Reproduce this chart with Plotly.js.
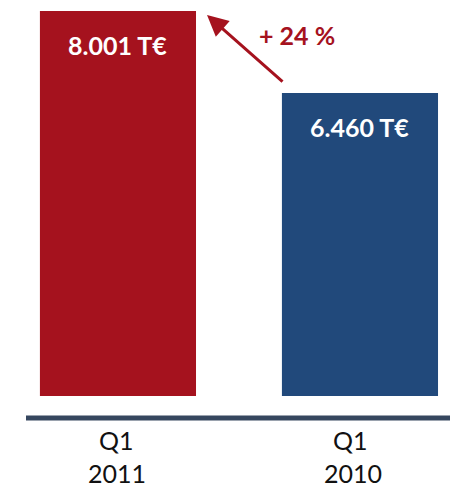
<!DOCTYPE html>
<html><head><meta charset="utf-8">
<script src="https://cdn.plot.ly/plotly-3.0.1.min.js"></script>
<style>html,body{margin:0;padding:0;background:#fff}#c{width:450px;height:487px}</style>
</head><body><div id="c"></div>
<script>
const quarters = ["Q1", "Q1"];
const years = ["2011", "2010"];
const values = [8001, 6460];
const valueLabels = ["8.001 T€", "6.460 T€"];
const colors = ["#A5121E", "#21497B"];
const growthLabel = "+ 24 %";

const xs = [0, 1];
const trace = {
  type: "bar", x: xs, y: values, width: 0.645,
  marker: {color: colors, line: {width: 0}},
  hoverinfo: "skip"
};
const F = "Lato, 'Open Sans', sans-serif";
const ann = [];
xs.forEach((x, i) => {
  ann.push({x: x, y: values[i], xref: "x", yref: "y", text: valueLabels[i], showarrow: false,
    yshift: -34, yanchor: "middle", font: {family: F, size: 25, color: "#ffffff", weight: "bold"}});
  ann.push({x: x, y: -0.111, xref: "x", yref: "paper", text: quarters[i], showarrow: false,
    xshift: i === 1 ? -9 : -1, yanchor: "middle", font: {family: F, size: 25, color: "#111111"}});
  ann.push({x: x, y: -0.195, xref: "x", yref: "paper", text: years[i], showarrow: false,
    xshift: i === 1 ? -7 : -1, yanchor: "middle", font: {family: F, size: 25, color: "#111111"}});
});
ann.push({x: 0.368, y: 7926, xref: "x", yref: "y", ax: 77, ay: 68, showarrow: true, text: "",
  arrowhead: 2, arrowsize: 1.4, arrowwidth: 3, arrowcolor: "#A5121E", standoff: 0});
ann.push({x: 0.74, y: 7550, xref: "x", yref: "y", text: growthLabel, showarrow: false,
  font: {family: F, size: 25, color: "#A5121E", weight: "bold"}});

Plotly.newPlot("c", [trace], {
  width: 450, height: 487,
  margin: {l: 26, r: 0, t: 0, b: 91},
  paper_bgcolor: "#fff", plot_bgcolor: "#fff",
  showlegend: false,
  xaxis: {range: [-0.380, 1.372], showticklabels: false, showgrid: false, zeroline: false, showline: false, ticks: ""},
  yaxis: {range: [766, 8208], visible: false},
  shapes: [{type: "line", xref: "paper", yref: "paper", x0: 0, x1: 1, y0: -0.0556, y1: -0.0556,
    line: {color: "#36475F", width: 5}}],
  annotations: ann
}, {staticPlot: true});
</script></body></html>
